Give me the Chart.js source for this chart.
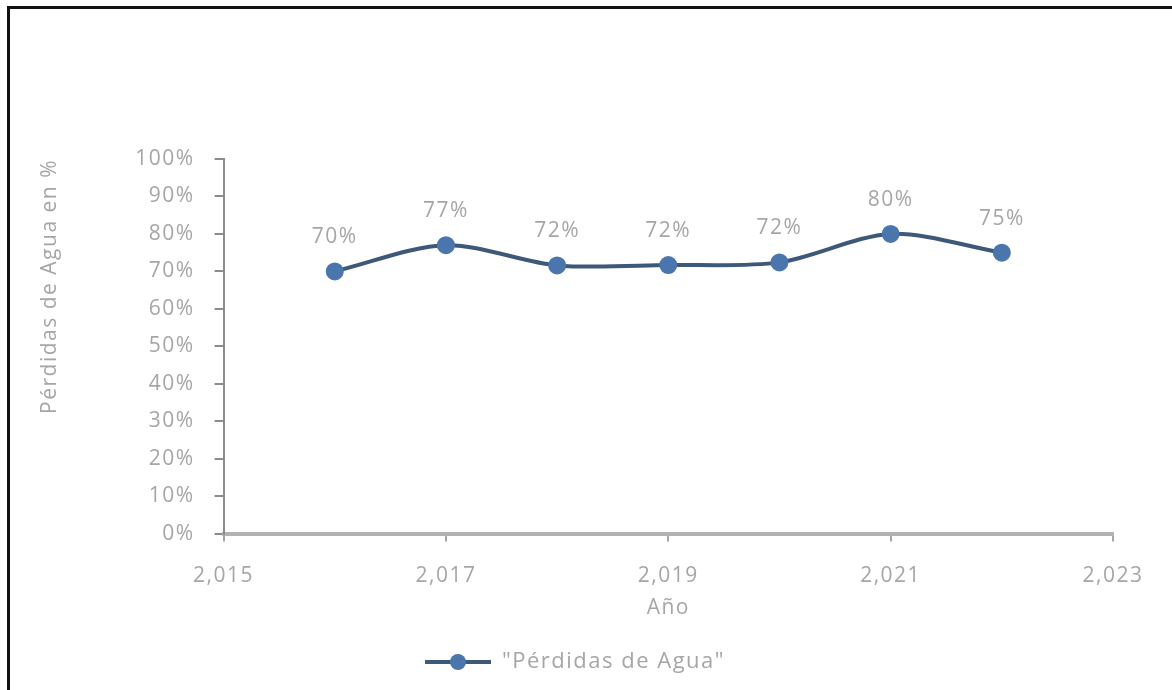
<!DOCTYPE html>
<html>
<head>
<meta charset="utf-8">
<script src="https://cdn.jsdelivr.net/npm/chart.js@4/dist/chart.umd.min.js"></script>
<style>
    html, body { margin: 0; padding: 0; background: #fff; }
    #frame {
        position: absolute; left: 7px; top: 6px;
        width: 1180px; height: 700px;
        border: 3px solid #111; box-sizing: border-box;
    }
    #chartBox { position: absolute; left: 0; top: 0; width: 1162px; height: 684px; }
</style>
</head>
<body>
<div id="frame">
    <div id="chartBox"><canvas id="lossChart"></canvas></div>
</div>
<script>
const years = [2016, 2017, 2018, 2019, 2020, 2021, 2022];
const lossPct = [70, 77, 71.6, 71.7, 72.4, 80, 75];
const yTicks = [0, 10, 20, 30, 40, 50, 60, 70, 80, 90, 100];
const xTicks = [2015, 2017, 2019, 2021, 2023];

const seriesName = '"Pérdidas de Agua"';
const lineColor = '#3d5878';
const markerColor = '#4a76ad';
const textColor = '#a6a6a6';
const fontFamily = '"Open Sans", Lato, sans-serif';

// small legend symbol: line with a dot in the middle
function legendSymbol() {
    const c = document.createElement('canvas');
    c.width = 66;
    c.height = 20;
    const g = c.getContext('2d');
    g.strokeStyle = lineColor;
    g.lineWidth = 4;
    g.beginPath();
    g.moveTo(0, 10);
    g.lineTo(66, 10);
    g.stroke();
    g.fillStyle = markerColor;
    g.beginPath();
    g.arc(33, 10, 8, 0, Math.PI * 2);
    g.fill();
    return c;
}

// the reference text is spread out a bit
const spacing = {
    id: 'spacing',
    beforeUpdate(chart) { chart.ctx.letterSpacing = '1.5px'; },
    beforeDraw(chart) { chart.ctx.letterSpacing = '1.5px'; }
};

// draws the value labels above each point
const pointLabels = {
    id: 'pointLabels',
    afterDatasetsDraw(chart) {
        const ctx = chart.ctx;
        const meta = chart.getDatasetMeta(0);
        ctx.save();
        ctx.font = '21px ' + fontFamily;
        ctx.fillStyle = textColor;
        ctx.textAlign = 'center';
        ctx.textBaseline = 'middle';
        meta.data.forEach((pt, i) => {
            ctx.fillText(Math.round(lossPct[i]) + '%', pt.x, pt.y - 34);
        });
        ctx.restore();
    }
};

const symbol = legendSymbol();

new Chart(document.getElementById('lossChart'), {
    type: 'line',
    data: {
        datasets: [{
            label: seriesName,
            data: years.map((y, i) => ({ x: y, y: lossPct[i] })),
            borderColor: lineColor,
            borderWidth: 4,
            backgroundColor: markerColor,
            pointBackgroundColor: markerColor,
            pointBorderColor: markerColor,
            pointRadius: 7,
            pointStyle: 'circle',
            tension: 0.3
        }]
    },
    options: {
        responsive: true,
        maintainAspectRatio: false,
        animation: false,
        layout: { padding: { top: 150, left: 27, right: 59, bottom: 10 } },
        plugins: {
            tooltip: { enabled: false },
            legend: {
                position: 'bottom',
                labels: {
                    usePointStyle: true,
                    pointStyleWidth: 66,
                    color: textColor,
                    font: { family: fontFamily, size: 22 },
                    padding: 6,
                    generateLabels: () => [{
                        text: seriesName,
                        fontColor: textColor,
                        pointStyle: symbol,
                        datasetIndex: 0,
                        lineWidth: 0
                    }]
                }
            }
        },
        scales: {
            x: {
                type: 'linear',
                min: 2015,
                max: 2023,
                afterBuildTicks: (axis) => { axis.ticks = xTicks.map(v => ({ value: v })); },
                ticks: {
                    color: textColor,
                    font: { family: fontFamily, size: 21 },
                    padding: 22,
                    callback: (v) => v.toLocaleString('en-US')
                },
                grid: { drawOnChartArea: false, color: '#a6a6a6', tickLength: 8, lineWidth: 2 },
                border: { color: '#b3b3b3', width: 4 },
                title: {
                    display: true,
                    text: 'Año',
                    color: textColor,
                    font: { family: fontFamily, size: 21 },
                    padding: { top: -15, bottom: 24 }
                }
            },
            y: {
                min: 0,
                max: 100,
                afterBuildTicks: (axis) => { axis.ticks = yTicks.map(v => ({ value: v })); },
                ticks: {
                    color: textColor,
                    font: { family: fontFamily, size: 21 },
                    padding: 20,
                    callback: (v) => v + '%'
                },
                grid: { drawOnChartArea: false, color: '#8c8c8c', tickLength: 9, lineWidth: 2 },
                border: { color: '#8c8c8c', width: 2 },
                title: {
                    display: true,
                    text: 'Pérdidas de Agua en %',
                    align: 'end',
                    color: textColor,
                    font: { family: fontFamily, size: 21 },
                    padding: { top: 0, bottom: 53 }
                }
            }
        }
    },
    plugins: [spacing, pointLabels]
});
</script>
</body>
</html>
